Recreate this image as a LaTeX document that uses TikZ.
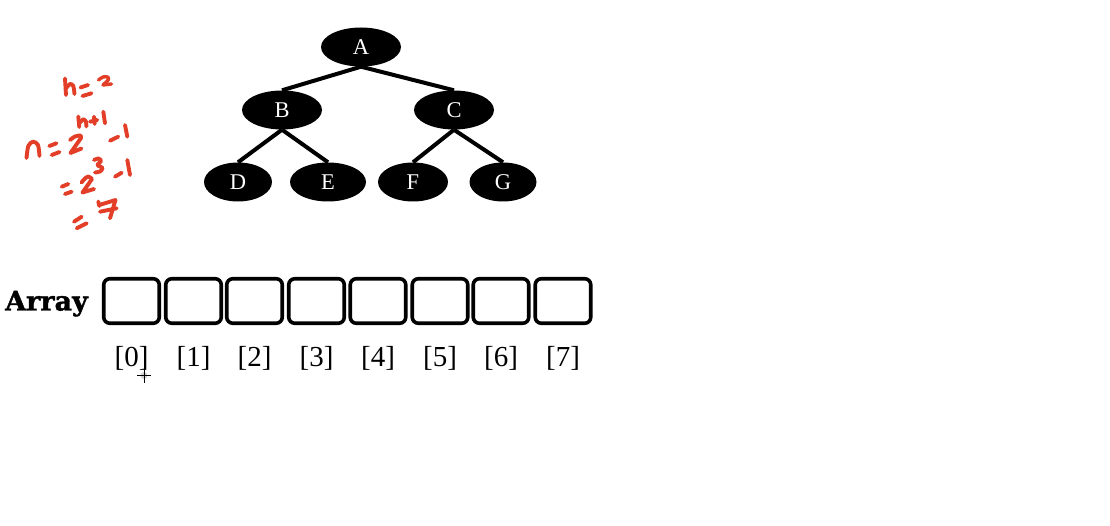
\documentclass[tikz,border=0pt]{standalone}
\usepackage{fontspec}
\setmainfont{Liberation Serif}
\newfontfamily\headfont{DejaVu Serif Bold}[FakeBold=1.6]
\usetikzlibrary{shapes.geometric}
\definecolor{inkred}{RGB}{226,62,40}
\begin{document}
\begin{tikzpicture}[x=1pt,y=-1pt,
  treenode/.style={ellipse,fill=black,text=white,inner sep=0pt,
    minimum height=39pt,font=\fontsize{22.5}{26}\selectfont},
  edge/.style={line width=4pt},
  cell/.style={draw,line width=3.6pt,rounded corners=6pt,
    minimum width=55.5pt,minimum height=44.5pt,inner sep=0pt},
  idx/.style={anchor=base,font=\fontsize{29}{34}\selectfont},
  ink/.style={draw=inkred,line width=3.9pt,line cap=round,line join=round}]
\useasboundingbox (0,0) rectangle (1110,526);

% binary tree
\node[treenode,minimum width=80pt] (A) at (361,47)  {A};
\node[treenode,minimum width=80pt] (B) at (282,110) {B};
\node[treenode,minimum width=80pt] (C) at (454,110) {C};
\node[treenode,minimum width=68pt] (D) at (238,182) {D};
\node[treenode,minimum width=76pt] (E) at (328,182) {E};
\node[treenode,minimum width=70pt] (F) at (413,182) {F};
\node[treenode,minimum width=67pt] (G) at (503,182) {G};
\draw[edge] (A.south) -- (B.north);
\draw[edge] (A.south) -- (C.north);
\draw[edge] (B.south) -- (D.north);
\draw[edge] (B.south) -- (E.north);
\draw[edge] (C.south) -- (F.north);
\draw[edge] (C.south) -- (G.north);

% array cells and indices
\node[anchor=base,font=\headfont\fontsize{27}{30}\selectfont] (arr) at (46.5,310.5) {Array};
\foreach \i/\x in {0/131.5,1/193.5,2/254.5,3/316.5,4/378,5/440,6/501,7/563}{
  \node[cell] (b\i) at (\x,301) {};
  \node[idx] (l\i) at (\x,366) {[\i]};
}

% handwritten notes
% h = 2
\draw[ink] (65,78.5) -- (66,95);
\draw[ink] plot[smooth] coordinates {(66,88.5) (70,84) (73.3,86) (74.5,94)};
\draw[ink] (80.5,87.5) -- (88,85);
\draw[ink] (82.5,96) -- (91.5,93.3);
\draw[ink,line width=3.4pt] plot[smooth] coordinates {(98.5,80) (103,77) (107.5,77) (108.5,79.5) (103,85)} -- (111.5,84);
% n = 2^{h+1} - 1
\draw[ink] plot[smooth] coordinates {(26.5,158) (28.3,146) (33,141.7) (38,145) (39.5,156)};
\draw[ink] (49.3,146) -- (56.5,143.3);
\draw[ink] (51.7,155) -- (59.5,152);
\draw[ink] plot[smooth] coordinates {(70,140) (75,136.5) (80.5,135.5) (81,138)} -- (70.5,153) -- (81.5,148.5);
\draw[ink] (78.3,116.5) -- (79.3,127);
\draw[ink] plot[smooth] coordinates {(79.3,123.3) (83.3,119.3) (86,121.7) (86.3,126.5)};
\draw[ink] (90,121.7) -- (97.3,120);
\draw[ink] (94,116.7) -- (94.7,124);
\draw[ink] (103.3,111.7) -- (105,123.3);
\draw[ink] (110,140.7) -- (118.3,136.7);
\draw[ink] (125,125) -- (127.3,136.7);
% = 2^3 - 1
\draw[ink] (61.7,186.7) -- (68.3,184);
\draw[ink] (65,194) -- (71.7,191.7);
\draw[ink] plot[smooth] coordinates {(81.5,182.5) (85,178.5) (88.5,176.5) (92,179)} -- (82.5,192.5) -- (94,189);
\draw[ink] plot[smooth] coordinates {(94,160) (98.5,158.5) (101,161) (97.5,165) (102.5,168) (100,171.5) (95,172.5)};
\draw[ink] (115,176.7) -- (121.7,172.7);
\draw[ink] (127.3,160) -- (130,175);
% = 7
\draw[ink] (74,221.7) -- (81.7,216.7);
\draw[ink] (76.7,228.3) -- (86.7,223.3);
\draw[ink] (98.3,201.5) -- (99.3,206);
\draw[ink] (99.3,205) -- (115.5,200) -- (110,218.3);
\draw[ink] (100,211.7) -- (116.7,208.3);

% pointer crosshair
\coordinate (ptr) at (144,375.5);
\fill[gray!35] (ptr) circle (3.5pt);
\draw[line width=0.8pt] ([xshift=-7pt]ptr) -- ([xshift=7pt]ptr);
\draw[line width=0.8pt] ([yshift=-7pt]ptr) -- ([yshift=7pt]ptr);
\end{tikzpicture}
\end{document}
